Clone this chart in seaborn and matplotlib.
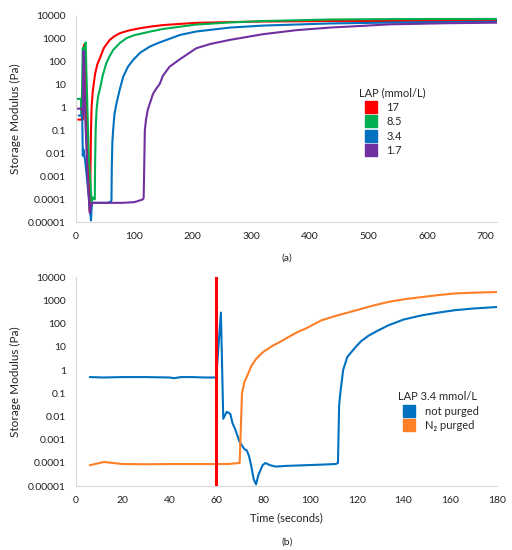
import numpy as np
import pandas as pd
import seaborn as sns
import matplotlib
matplotlib.use("Agg")
import matplotlib.pyplot as plt
from matplotlib.lines import Line2D
from matplotlib.ticker import FixedLocator, FixedFormatter

# panel (a): storage modulus vs time for different LAP concentrations
t_17 = [4, 10, 11, 12, 13, 14, 16, 20, 24, 25, 26, 27, 29, 33, 37, 41, 48, 58, 66, 75, 90, 109,
        130, 150, 178, 206, 260, 320, 434, 550, 720]
g_17 = [0.3, 0.3, 0.45, 0.3, 300, 550, 200, 0.01, 0.00003, 0.001, 0.1, 1, 5, 30, 80, 140, 400, 900, 1300, 1750, 2300, 2900,
        3500, 4000, 4500, 5000, 5400, 5700, 6000, 6000, 6100]

t_85 = [0, 9, 10, 12, 14, 16, 17, 18, 22, 27, 29, 31, 32.5, 33, 34, 35.5, 38, 41, 46, 52, 58, 64, 75, 86.6, 100,
        126, 149, 178, 206, 263, 320, 434, 550, 720]
g_85 = [2.4, 2.4, 0.5, 400, 200, 600, 700, 50, 0.01, 0.00008, 0.00012, 0.0001, 0.0001, 0.003, 0.1, 0.8, 3, 6, 25, 85, 180, 330, 650, 1070, 1450,
        2050, 2700, 3400, 4200, 5200, 6000, 7000, 7300, 7400]

t_34 = [5, 11, 12, 13, 14, 16, 20, 26, 27, 28, 35, 45, 55, 60, 61, 61.5, 62.5, 63.8, 66, 69.5, 75, 81, 89, 98, 110,
        126.5, 140, 155, 178, 206, 263, 320, 434, 550, 720]
g_34 = [0.45, 0.45, 0.008, 0.015, 0.01, 0.005, 0.0005, 0.000012, 0.00004, 0.00007, 0.00007, 0.00007, 0.00007, 0.00008, 0.00009, 0.002, 0.03, 0.1, 0.5, 1.5, 6, 22, 60, 120, 250,
        460, 650, 900, 1480, 2100, 3100, 3800, 4700, 5200, 5600]

t_1_7 = [3, 11, 12, 13, 14, 16, 20, 24, 26, 28, 40, 60, 80, 100, 110, 115, 116, 117, 118, 120, 123, 126.5, 132, 138, 143.6, 149, 160, 178,
         206, 230, 263, 320, 377, 434, 537, 630, 720]
g_1_7 = [0.9, 0.9, 0.5, 300, 200, 0.5, 0.001, 0.000025, 0.00005, 0.00007, 0.00007, 0.00007, 0.00007, 0.000075, 0.00009, 0.0001, 0.00012, 0.003, 0.1, 0.3, 0.8, 1.5, 4, 7, 11, 25, 60, 130,
         390, 600, 900, 1600, 2400, 3100, 4300, 4800, 5100]

lap_labels = ["17", "8.5", "3.4", "1.7"]
lap_colors = ["#FF0000", "#00B050", "#0070C0", "#7030A0"]

# panel (b): not purged vs N2 purged at LAP 3.4 mmol/L
t_np = [6, 12, 20, 30, 40, 42, 45, 50, 55, 60, 62, 63, 64.5, 66, 67, 68, 70, 72, 73, 74, 75, 76, 77, 78, 79.8, 81, 83, 85.5,
        90, 98, 105, 111, 112, 112.5, 113, 114.2, 116, 119.6, 122, 125, 129, 133.6, 140, 148, 155, 162, 170, 180]
g_np = [0.5, 0.48, 0.5, 0.5, 0.48, 0.45, 0.5, 0.5, 0.48, 0.48, 300, 0.008, 0.016, 0.013, 0.005, 0.003, 0.0008, 0.0004, 0.00035, 0.0002, 0.00007, 0.00002, 0.000012, 0.00003, 0.00008, 0.0001, 0.00008, 0.00007,
        0.000075, 0.00008, 0.000085, 0.00009, 0.0001, 0.03, 0.1, 1, 3.7, 10, 18, 30, 50, 85, 150, 230, 300, 380, 450, 520]

t_n2 = [6, 12, 20, 30, 40, 50, 60, 65, 70, 70.5, 71, 72, 73, 75, 77, 80, 84, 88, 91, 95, 98, 105, 112, 120, 127, 134,
        141, 148, 155, 162, 170, 180]
g_n2 = [0.00008, 0.00011, 0.00009, 0.000088, 0.00009, 0.00009, 0.00009, 0.00009, 0.0001, 0.003, 0.1, 0.3, 0.5, 1.5, 3, 6, 11, 18, 27, 45, 60, 140, 230, 380, 600, 880,
        1150, 1400, 1700, 2000, 2150, 2300]

purge_labels = ["not purged", "N\u2082 purged"]
purge_colors = ["#0070C0", "#FF7F27"]
light_on = 60

y_ticks = [1e-5, 1e-4, 1e-3, 1e-2, 1e-1, 1, 10, 100, 1000, 10000]
y_tick_labels = ["0.00001", "0.0001", "0.001", "0.01", "0.1", "1", "10", "100", "1000", "10000"]

sns.set_style("white")
plt.rcParams["font.family"] = ["Lato", "DejaVu Sans"]

df_a = pd.concat([
    pd.DataFrame({"time": t, "G": g, "LAP": lab})
    for t, g, lab in zip([t_17, t_85, t_34, t_1_7], [g_17, g_85, g_34, g_1_7], lap_labels)
])
df_b = pd.concat([
    pd.DataFrame({"time": t, "G": g, "cond": lab})
    for t, g, lab in zip([t_np, t_n2], [g_np, g_n2], purge_labels)
])

fig = plt.figure(figsize=(5.12, 5.5), dpi=100)
ax_a = fig.add_axes([0.148, 0.596, 0.823, 0.375])
ax_b = fig.add_axes([0.148, 0.116, 0.823, 0.38])

sns.lineplot(data=df_a, x="time", y="G", hue="LAP", palette=lap_colors, hue_order=lap_labels,
             sort=False, estimator=None, lw=1.5, legend=False, ax=ax_a)
sns.lineplot(data=df_b, x="time", y="G", hue="cond", palette=purge_colors, hue_order=purge_labels,
             sort=False, estimator=None, lw=1.5, legend=False, ax=ax_b)
ax_b.axvline(light_on, color="#FF0000", lw=2.2, zorder=5)

for ax, xmax, xstep in [(ax_a, 720, 100), (ax_b, 180, 20)]:
    ax.set_yscale("log")
    ax.set_ylim(1e-5, 1e4)
    ax.set_xlim(0, xmax)
    ax.yaxis.set_major_locator(FixedLocator(y_ticks))
    ax.yaxis.set_major_formatter(FixedFormatter(y_tick_labels))
    ax.yaxis.set_minor_locator(FixedLocator([]))
    ax.set_xticks(np.arange(0, xmax + 1, xstep))
    ax.tick_params(axis="both", length=0, labelsize=7.5, pad=7, colors="#222222")
    ax.set_ylabel("Storage Modulus (Pa)", fontsize=8.5, color="#222222")
    ax.yaxis.set_label_coords(-0.13, 0.5)
    ax.set_xlabel("")
    for side in ["top", "right"]:
        ax.spines[side].set_visible(False)
    for side in ["left", "bottom"]:
        ax.spines[side].set_color("#D9D9D9")
        ax.spines[side].set_linewidth(0.8)

ax_b.set_xlabel("Time (seconds)", fontsize=8, color="#222222", labelpad=5)

h_a = [Line2D([], [], marker="s", ls="none", ms=8, color=c) for c in lap_colors]
leg_a = ax_a.legend(h_a, lap_labels, title="LAP (mmol/L)", frameon=False, fontsize=8,
                    title_fontsize=8, loc="upper left", bbox_to_anchor=(0.66, 0.68),
                    handletextpad=0.4, labelspacing=0.3, borderpad=0)
leg_a._legend_box.align = "left"

h_b = [Line2D([], [], marker="s", ls="none", ms=8, color=c) for c in purge_colors]
leg_b = ax_b.legend(h_b, purge_labels, title="LAP 3.4 mmol/L", frameon=False, fontsize=8,
                    title_fontsize=8, loc="upper left", bbox_to_anchor=(0.752, 0.48),
                    handletextpad=0.4, labelspacing=0.3, borderpad=0)
leg_b._legend_box.align = "left"

fig.text(0.56, 1 - 258 / 550, "(a)", ha="center", va="center", fontsize=7.5, color="#222222")
fig.text(0.56, 1 - 542 / 550, "(b)", ha="center", va="center", fontsize=7.5, color="#222222")

fig.savefig("out.png", dpi=100)
